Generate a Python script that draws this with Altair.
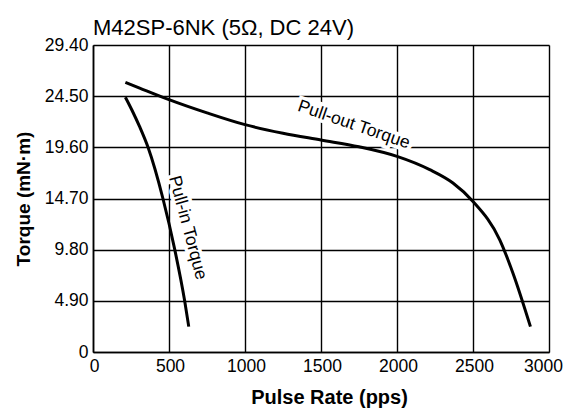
import altair as alt
import pandas as pd

# Pull-out torque curve
pullout_x = [213, 307, 500, 750, 1000, 1250, 1500, 1750, 2000, 2215, 2368, 2500, 2676, 2763, 2878]
pullout_y = [25.83, 25.28, 24.17, 22.9, 21.77, 20.95, 20.3, 19.65, 18.73, 17.46, 16.18, 14.42, 10.74, 7.55, 2.43]

# Pull-in torque curve
pullin_x = [213, 255, 306, 362, 460, 538, 603, 630]
pullin_y = [24.4, 23.2, 21.6, 19.6, 14.7, 9.8, 4.9, 2.43]

x_ticks = [0, 500, 1000, 1500, 2000, 2500, 3000]
y_ticks = [0, 4.90, 9.80, 14.70, 19.60, 24.50, 29.40]

label_text = ["Pull-out Torque", "Pull-in Torque"]
label_x = [1716, 622]
label_y = [21.75, 11.9]
label_angle = [19, 75]

FONT = "Liberation Sans"

df = pd.concat([
    pd.DataFrame({"x": pullout_x, "y": pullout_y, "curve": "Pull-out"}),
    pd.DataFrame({"x": pullin_x, "y": pullin_y, "curve": "Pull-in"}),
])
labels = pd.DataFrame({"text": label_text, "x": label_x, "y": label_y, "angle": label_angle})

xscale = alt.Scale(domain=[0, 3000], nice=False)
yscale = alt.Scale(domain=[0, 29.4], nice=False)

xaxis = alt.Axis(values=x_ticks, title="Pulse Rate (pps)", grid=True, gridColor="black",
                 gridWidth=1.4, gridOpacity=1, domainColor="black", domainWidth=1.6,
                 ticks=False, labelFont=FONT, labelFontSize=17.5, labelColor="black",
                 labelPadding=5, format="d", labelFlush=False, titleFont=FONT, titleFontSize=20,
                 titleFontWeight="bold", titleColor="black", titlePadding=13, titleX=236,
                 labelOffset={"condition": {"test": "datum.value === 3000", "value": -6},
                              "value": 1})
yaxis = alt.Axis(values=y_ticks, title="Torque (mN·m)", grid=True, gridColor="black",
                 gridWidth=1.4, gridOpacity=1, domainColor="black", domainWidth=1.6,
                 ticks=False, labelFont=FONT, labelFontSize=17.5, labelColor="black",
                 labelPadding=5, titleFont=FONT, titleFontSize=19, titleFontWeight="bold",
                 titleColor="black", titlePadding=11,
                 labelExpr="datum.value == 0 ? '0' : format(datum.value, '.2f')")

lines = alt.Chart(df).mark_line(color="black", strokeWidth=3, interpolate="monotone").encode(
    x=alt.X("x:Q", scale=xscale, axis=xaxis),
    y=alt.Y("y:Q", scale=yscale, axis=yaxis),
    detail="curve:N",
)

text_enc = dict(
    x=alt.X("x:Q", scale=xscale),
    y=alt.Y("y:Q", scale=yscale),
    text="text:N",
    angle=alt.Angle("angle:Q", scale=None),
)

halo = alt.Chart(labels).mark_text(font=FONT, fontSize=17.5, color="white", stroke="white",
                                   strokeWidth=7).encode(**text_enc)
text = alt.Chart(labels).mark_text(font=FONT, fontSize=17.5, color="black").encode(**text_enc)

chart = (halo + lines + text).properties(
    width=456, height=307,
    autosize=alt.AutoSizeParams(type="none"),
    padding={"left": 85, "top": 37, "right": 14, "bottom": 56},
    title=alt.TitleParams("M42SP-6NK (5Ω, DC 24V)", anchor="start", frame="group",
                          font=FONT, fontSize=22, fontWeight="normal", color="black", offset=-4),
).configure_view(stroke="black", strokeWidth=1.6).configure(background="white")

chart.save("out.html", embed_options={"renderer": "svg", "actions": False})
